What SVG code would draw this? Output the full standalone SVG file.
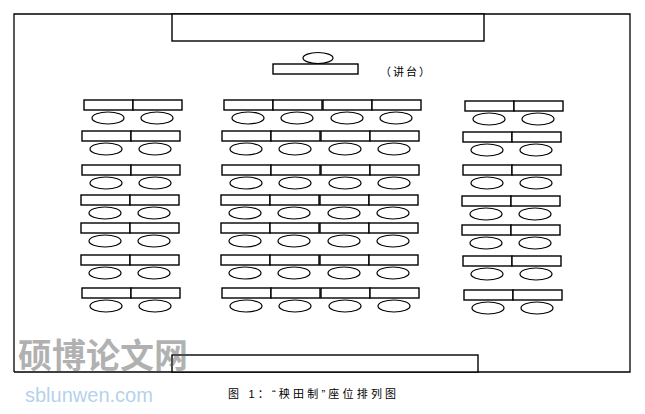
<svg xmlns="http://www.w3.org/2000/svg" width="645" height="414" viewBox="0 0 645 414">
<style>
.d{fill:#fff;stroke:#000;stroke-width:1.4}
.s{fill:#fff;stroke:#000;stroke-width:1.2}
.t{font-family:"Liberation Sans","Noto Sans CJK SC",sans-serif;fill:#000}
</style>
<rect width="645" height="414" fill="#fff"/>
<g id="room"><path d="M14,372 V14 H630 V372 H14" fill="none" stroke="#000" stroke-width="1.3"/></g>
<g id="board"><rect x="172" y="14" width="312" height="27" class="d"/></g>
<g id="podium"><ellipse cx="318" cy="58" rx="15" ry="5.5" class="s"/><rect x="273" y="64" width="85" height="10" class="d"/><text x="380" y="76" class="t" font-size="11" letter-spacing="2">（讲台）</text></g>
<g id="back"><rect x="172" y="355" width="306" height="17" class="d"/></g>
<g id="seats">
<defs><g id="p"><rect x="0" y="0" width="49" height="10" class="d"/><ellipse cx="24" cy="18" rx="16" ry="6" class="s"/></g></defs>
<g id="left">
<use href="#p" x="84" y="100"/><use href="#p" x="133" y="100"/>
<use href="#p" x="82" y="131"/><use href="#p" x="131" y="131"/>
<use href="#p" x="82" y="165"/><use href="#p" x="131" y="165"/>
<use href="#p" x="81" y="195"/><use href="#p" x="130" y="195"/>
<use href="#p" x="81" y="223"/><use href="#p" x="130" y="223"/>
<use href="#p" x="81" y="255"/><use href="#p" x="130" y="255"/>
<use href="#p" x="82" y="288"/><use href="#p" x="131" y="288"/>
</g>
<g id="middle">
<use href="#p" x="224" y="100"/><use href="#p" x="273" y="100"/><use href="#p" x="323" y="100"/><use href="#p" x="372" y="100"/>
<use href="#p" x="222" y="131"/><use href="#p" x="271" y="131"/><use href="#p" x="321" y="131"/><use href="#p" x="370" y="131"/>
<use href="#p" x="222" y="165"/><use href="#p" x="271" y="165"/><use href="#p" x="321" y="165"/><use href="#p" x="370" y="165"/>
<use href="#p" x="221" y="195"/><use href="#p" x="270" y="195"/><use href="#p" x="320" y="195"/><use href="#p" x="369" y="195"/>
<use href="#p" x="221" y="223"/><use href="#p" x="270" y="223"/><use href="#p" x="320" y="223"/><use href="#p" x="369" y="223"/>
<use href="#p" x="221" y="255"/><use href="#p" x="270" y="255"/><use href="#p" x="320" y="255"/><use href="#p" x="369" y="255"/>
<use href="#p" x="222" y="288"/><use href="#p" x="271" y="288"/><use href="#p" x="321" y="288"/><use href="#p" x="370" y="288"/>
</g>
<g id="right">
<use href="#p" x="465" y="101"/><use href="#p" x="514" y="101"/>
<use href="#p" x="463" y="132"/><use href="#p" x="512" y="132"/>
<use href="#p" x="463" y="165"/><use href="#p" x="512" y="165"/>
<use href="#p" x="462" y="196"/><use href="#p" x="511" y="196"/>
<use href="#p" x="462" y="225"/><use href="#p" x="511" y="225"/>
<use href="#p" x="463" y="256"/><use href="#p" x="512" y="256"/>
<use href="#p" x="464" y="290"/><use href="#p" x="513" y="290"/>
</g>
</g>
<g id="caption"><text x="228" y="398" class="t" font-size="11" letter-spacing="3.2">图 1：“秧田制”座位排列图</text></g>
<g id="watermark" opacity="0.45">
<text x="18" y="368" font-family="Noto Sans CJK SC,sans-serif" font-size="34" font-weight="bold" fill="#555">硕博论文网</text>
<text x="25" y="402" font-family="Liberation Sans,sans-serif" font-size="20" fill="#5b9bd5">sblunwen.com</text>
</g>
</svg>
